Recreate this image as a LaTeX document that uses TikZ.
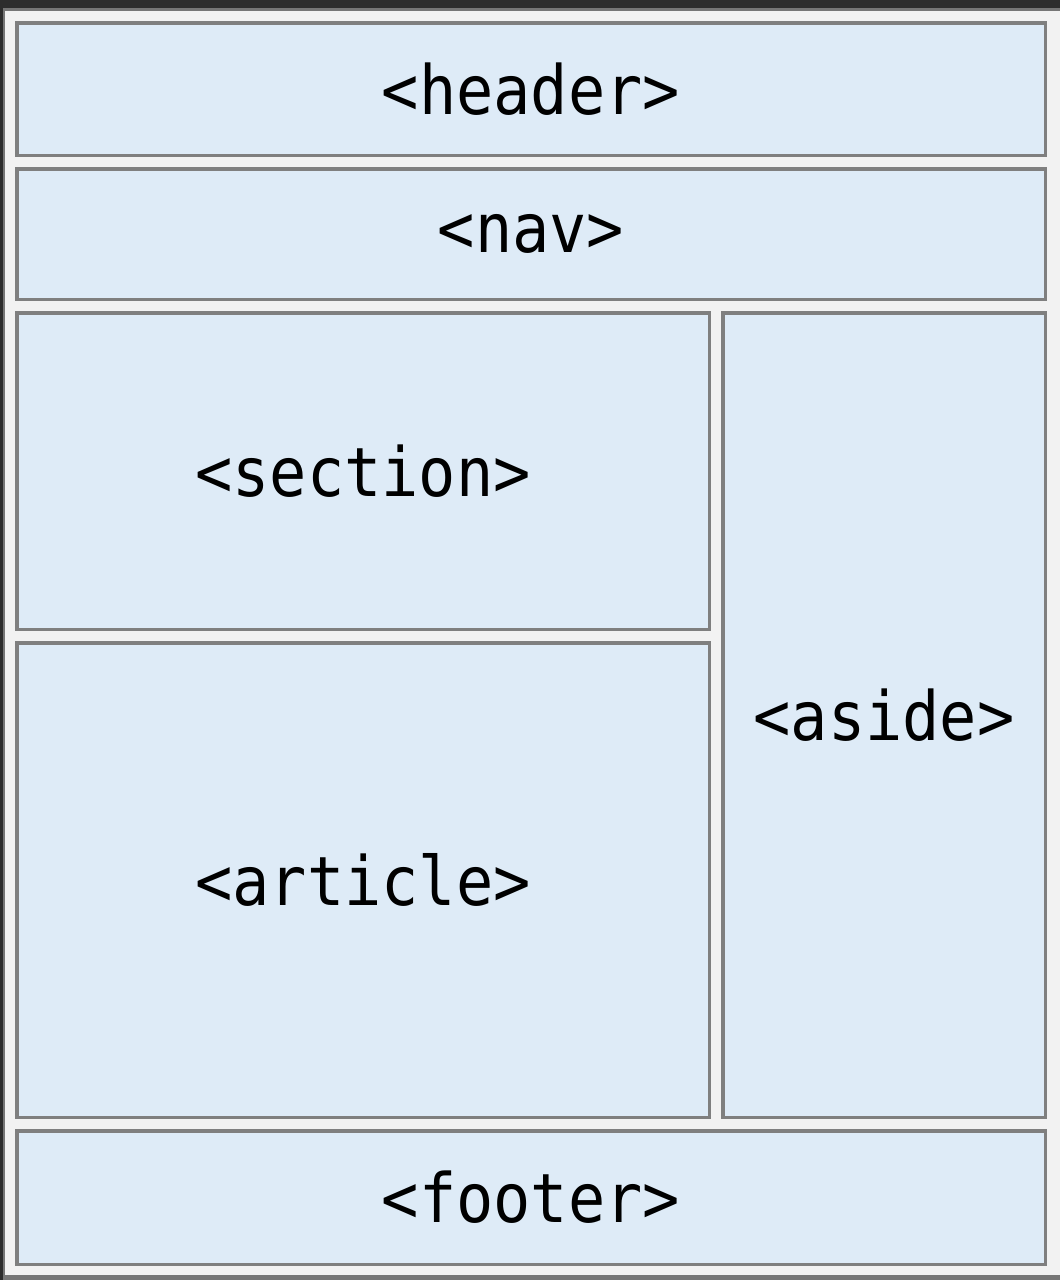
\documentclass[tikz,border=0pt]{standalone}
\usepackage{fontspec}
\newfontfamily\tagfont[FakeStretch=0.91]{DejaVu Sans Mono}
\usetikzlibrary{positioning}
\definecolor{cdark}{HTML}{2D2D2D}
\definecolor{crim}{HTML}{767676}
\definecolor{cpage}{HTML}{F2F2F2}
\definecolor{cframe}{HTML}{7F7F7F}
\definecolor{cfill}{HTML}{DEEBF7}
\tikzset{
  block/.style={draw=cframe, fill=cfill, line width=3.5pt, inner sep=0pt,
    font=\tagfont\fontsize{68}{78}\selectfont, text=black},
}

\begin{document}
\begin{tikzpicture}[x=1pt, y=-1pt]
  \useasboundingbox (0,0) rectangle (1060,1280);
  % page frame
  \fill[cdark] (0,0) rectangle (1060,1280);
  \fill[crim] (3,8) rectangle (1062,1282);
  \fill[cpage] (5,11) rectangle (1062,1275);
  % layout blocks
  \node[block, anchor=north west, minimum width=1028.5pt, minimum height=132.5pt] (header) at (15,21) {<header>};
  \node[block, below=10pt of header, minimum width=1028.5pt, minimum height=130.5pt] (nav) {<nav>};
  \node[block, below right=10pt and 0pt of nav.south west, minimum width=692.5pt, minimum height=316.5pt] (section) {<section>};
  \node[block, below=10pt of section, minimum width=692.5pt, minimum height=474.5pt] (article) {<article>};
  \node[block, below right=0pt and 10pt of section.north east, minimum width=322.5pt, minimum height=804.5pt] (aside) {<aside>};
  \node[block, below right=10pt and 0pt of article.south west, minimum width=1028.5pt, minimum height=133.5pt] (footer) {<footer>};
\end{tikzpicture}
\end{document}
